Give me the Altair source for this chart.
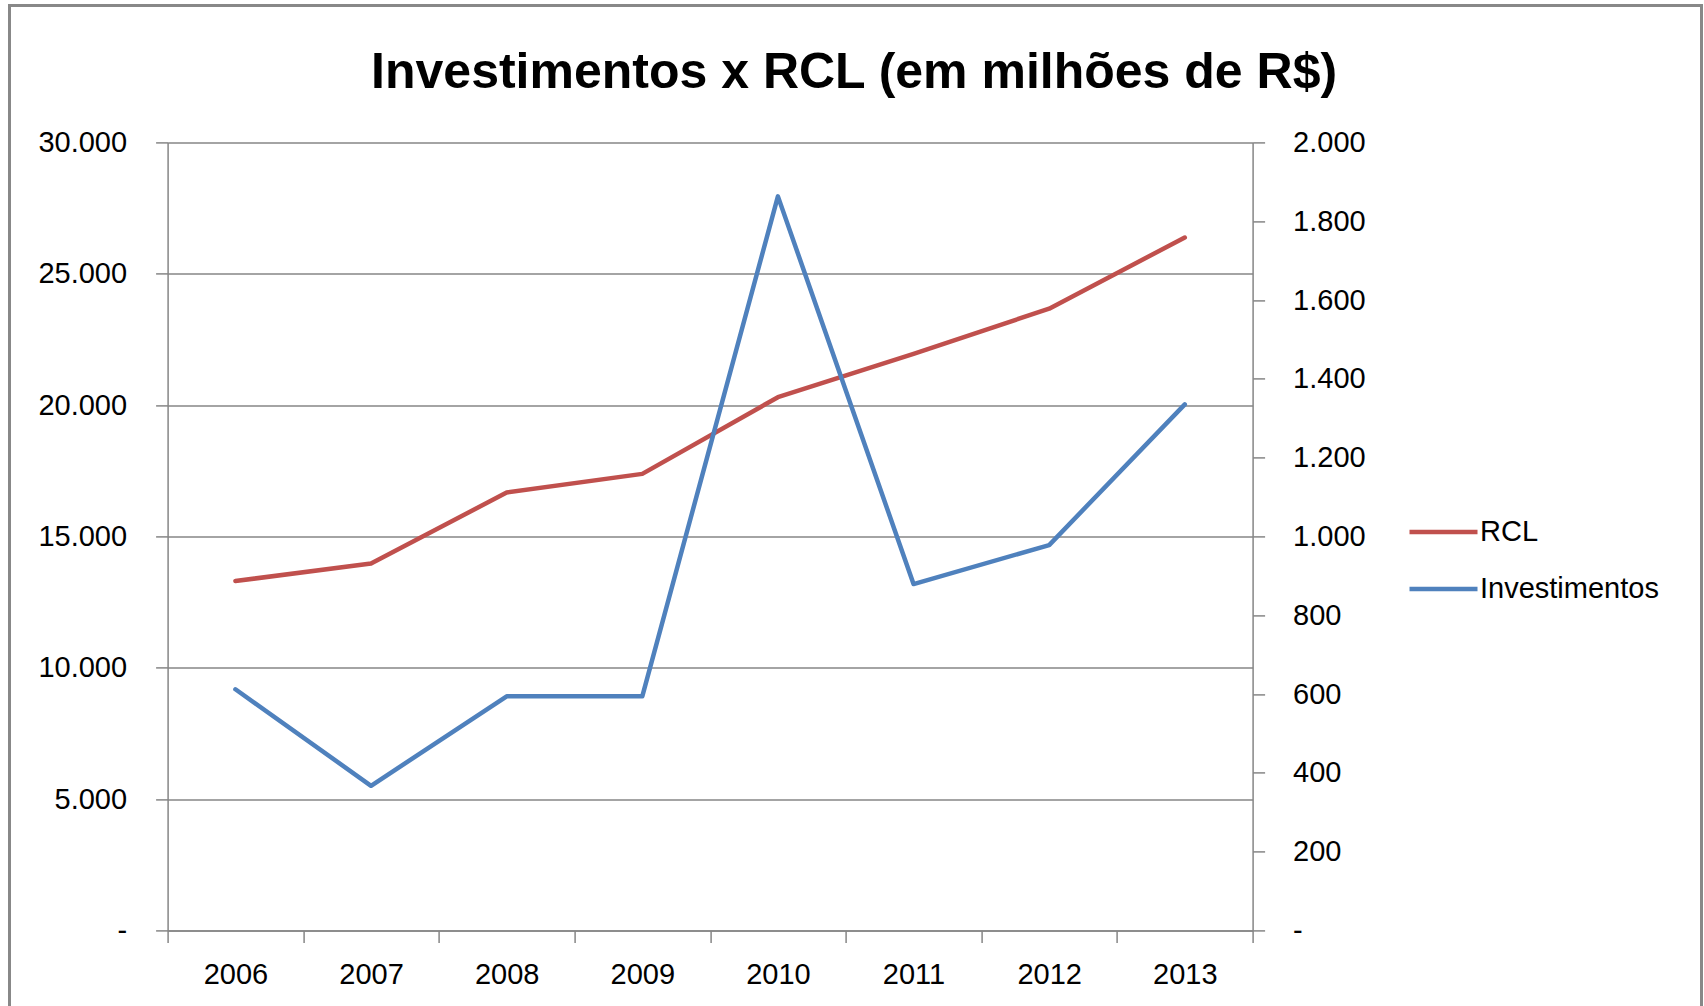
import altair as alt
import pandas as pd

# ---- data ----
anos = ["2006", "2007", "2008", "2009", "2010", "2011", "2012", "2013"]
rcl = [13300, 13970, 16670, 17380, 20300, 21950, 23670, 26380]
investimentos = [612, 367, 594, 594, 1863, 879, 978, 1335]
series = ["RCL", "Investimentos"]
cores = ["#C0504D", "#4F81BD"]
ticks_esq = [0, 5000, 10000, 15000, 20000, 25000, 30000]
ticks_dir = [0, 200, 400, 600, 800, 1000, 1200, 1400, 1600, 1800, 2000]
titulo = "Investimentos x RCL (em milhões de R$)"

df_rcl = pd.DataFrame({"Ano": anos, "Valor": rcl, "Serie": series[0]})
df_inv = pd.DataFrame({"Ano": anos, "Valor": investimentos, "Serie": series[1]})

FONT = "Liberation Sans"
GRAY = "#868686"
W, H = 1085, 788
PAD_L, PAD_T = 167.6, 142.4

x_enc = alt.X(
    "Ano:O",
    scale=alt.Scale(type="band", paddingInner=0, paddingOuter=0),
    bandPosition=0.5,
    axis=alt.Axis(
        title=None, labelAngle=0, tickBand="extent", domainColor=GRAY, tickColor=GRAY,
        domainWidth=1.5, tickWidth=1.5, tickSize=12, labelPadding=18,
        labelFont=FONT, labelFontSize=29, labelColor="#000000", grid=False,
    ),
)

color_enc = alt.Color(
    "Serie:N",
    scale=alt.Scale(domain=series, range=cores),
    legend=alt.Legend(
        title=None, orient="none", legendX=1407 - PAD_L, legendY=518 - PAD_T,
        symbolType="stroke", symbolSize=4624, symbolStrokeWidth=4.5,
        clipHeight=28, rowPadding=28, labelOffset=0, padding=0, labelLimit=400,
        labelFont=FONT, labelFontSize=29, labelColor="#000000",
    ),
)

label_esq = "datum.value == 0 ? '-\u00a0\u00a0' : replace(format(datum.value, ','), ',', '.')"
label_dir = "datum.value == 0 ? '-' : replace(format(datum.value, ','), ',', '.')"

linha_rcl = alt.Chart(df_rcl).mark_line(strokeWidth=4.5, strokeCap="round", strokeJoin="round").encode(
    x=x_enc,
    y=alt.Y(
        "Valor:Q",
        scale=alt.Scale(domain=[0, 30000], nice=False, zero=True),
        axis=alt.Axis(
            title=None, orient="left", values=ticks_esq, grid=True, gridColor=GRAY, gridWidth=1.5,
            domainColor=GRAY, tickColor=GRAY, domainWidth=1.5, tickWidth=1.5, tickSize=12,
            labelPadding=29, labelExpr=label_esq, labelFont=FONT, labelFontSize=29,
            labelColor="#000000",
        ),
    ),
    color=color_enc,
)

linha_inv = alt.Chart(df_inv).mark_line(strokeWidth=4.5, strokeCap="round", strokeJoin="round").encode(
    x=x_enc,
    y=alt.Y(
        "Valor:Q",
        scale=alt.Scale(domain=[0, 2000], nice=False, zero=True),
        axis=alt.Axis(
            title=None, orient="right", values=ticks_dir, grid=False,
            domainColor=GRAY, tickColor=GRAY, domainWidth=1.5, tickWidth=1.5, tickSize=12,
            labelPadding=28, labelExpr=label_dir, labelFont=FONT, labelFontSize=29,
            labelColor="#000000", labelAlign="left",
        ),
    ),
    color=color_enc,
)

moldura = alt.Chart(pd.DataFrame({"m": [0]})).mark_rect(
    fill="transparent", stroke="#888888", strokeWidth=3
).encode(
    x=alt.value(9.5 - PAD_L), x2=alt.value(1701.5 - PAD_L),
    y=alt.value(5.5 - PAD_T), y2=alt.value(1040 - PAD_T),
)

chart = alt.layer(moldura, linha_rcl, linha_inv).resolve_scale(y="independent").properties(
    width=W,
    height=H,
    autosize=alt.AutoSizeParams(type="none"),
    padding={"left": PAD_L, "top": PAD_T, "right": 1704 - PAD_L - W, "bottom": 1006 - PAD_T - H},
    background="white",
    title=alt.TitleParams(
        titulo, font=FONT, fontWeight="bold", fontSize=50, color="#000000",
        anchor="middle", frame="group", dx=144, dy=134, baseline="alphabetic", offset=0,
    ),
).configure_view(stroke=None)

chart.save("out.html", embed_options={"renderer": "svg", "actions": False})
